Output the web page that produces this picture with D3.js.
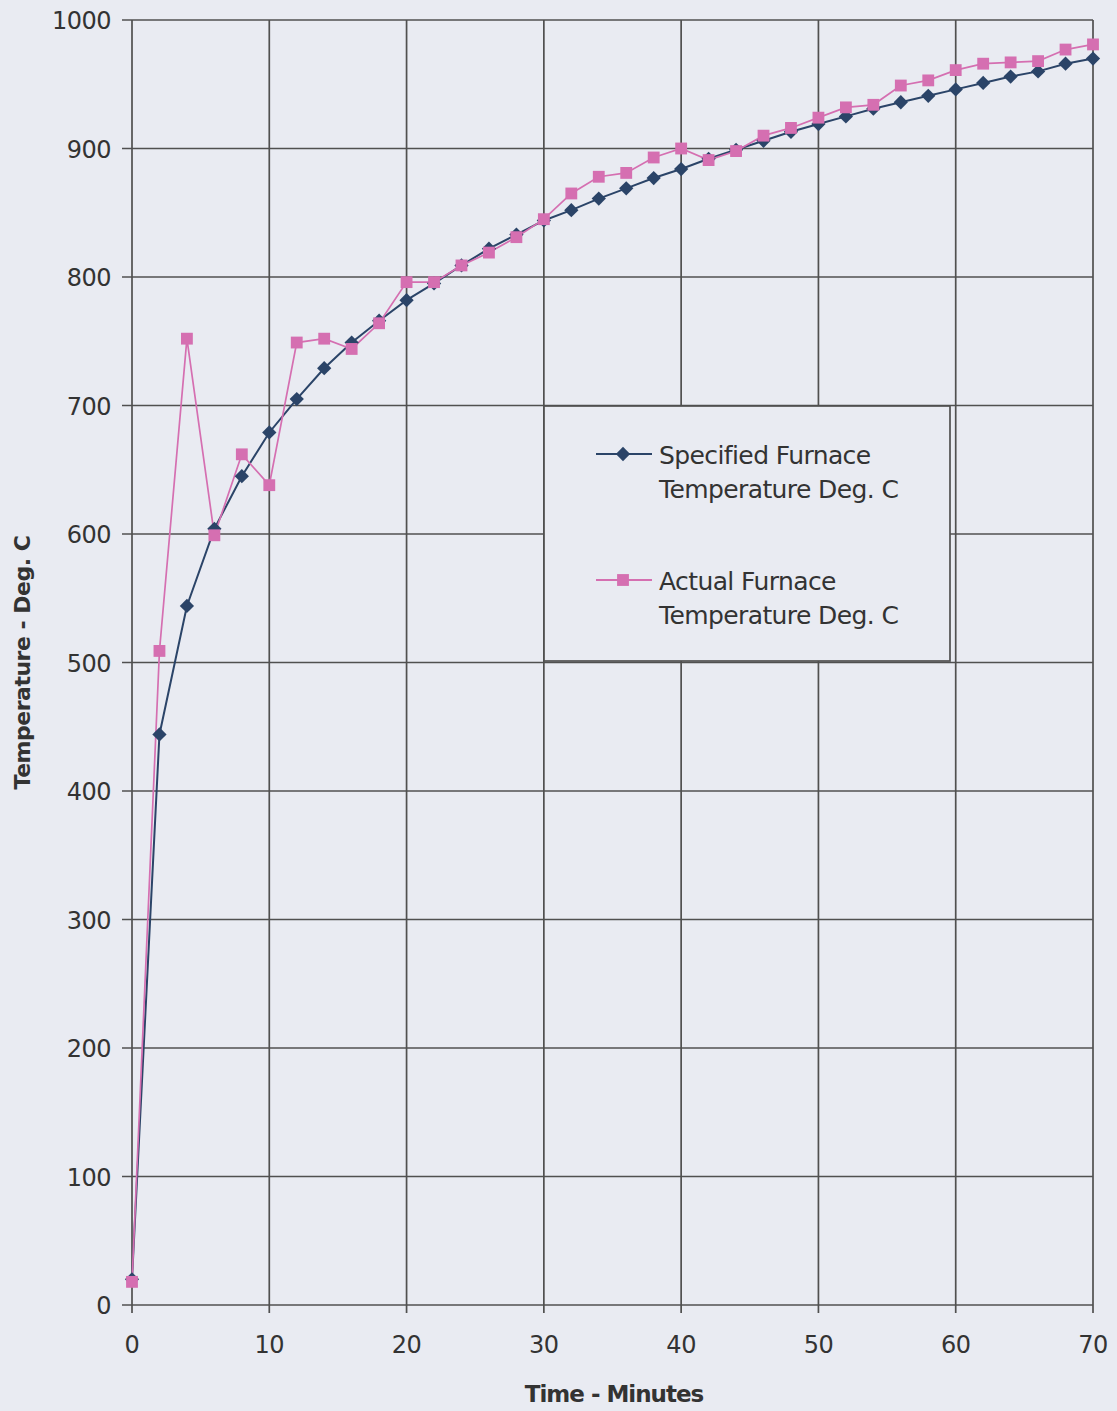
<!DOCTYPE html>
<html>
<head>
<meta charset="utf-8">
<script src="https://cdn.jsdelivr.net/npm/d3@7"></script>
<style>
	body { margin: 0; background: #e9ebf2; }
	svg { display: block; }
	text { font-family: "DejaVu Sans", Verdana, sans-serif; fill: #333; }
</style>
</head>
<body>
<svg id="chart"></svg>
<script>
const WIDTH = 1117,
	  HEIGHT = 1411;

// time in minutes
const minutes = [0, 2, 4, 6, 8, 10, 12, 14, 16, 18, 20, 22, 24, 26, 28, 30, 32, 34,
	36, 38, 40, 42, 44, 46, 48, 50, 52, 54, 56, 58, 60, 62, 64, 66, 68, 70];

// specified furnace temperature, deg C
const specified = [20, 444, 544, 604, 645, 679, 705, 729, 749, 766, 782, 795, 809, 822, 833, 844,
	852, 861, 869, 877, 884, 892, 899, 906, 913, 919, 925, 931, 936, 941, 946, 951, 956, 960, 966, 970];

// actual furnace temperature, deg C
const actual = [18, 509, 752, 599, 662, 638, 749, 752, 744, 764, 796, 796, 809, 819, 831, 845,
	865, 878, 881, 893, 900, 891, 898, 910, 916, 924, 932, 934, 949, 953, 961, 966, 967, 968, 977, 981];

const xTicks = [0, 10, 20, 30, 40, 50, 60, 70];
const yTicks = [0, 100, 200, 300, 400, 500, 600, 700, 800, 900, 1000];

const seriesNames = ["Specified Furnace|Temperature Deg. C", "Actual Furnace|Temperature Deg. C"];

const margin = {left: 131, right: 24, top: 20, bottom: 106};

let svg = d3.select("#chart")
	.attr("width", WIDTH)
	.attr("height", HEIGHT);

let x = d3.scaleLinear()
	.domain([0, 70])
	.range([margin.left + 1, WIDTH - margin.right]);

let y = d3.scaleLinear()
	.domain([0, 1000])
	.range([HEIGHT - margin.bottom, margin.top]);

const gridColor = "#505050",
	  blue = "#2b4468",
	  pink = "#d56fb1";

// grid
svg.append("g")
	.selectAll("line")
	.data(yTicks)
	.join("line")
		.attr("x1", x(0) - 10)
		.attr("x2", x(70))
		.attr("y1", d => y(d))
		.attr("y2", d => y(d))
		.attr("stroke", gridColor)
		.attr("stroke-width", 1.7);

svg.append("g")
	.selectAll("line")
	.data(xTicks)
	.join("line")
		.attr("x1", d => x(d))
		.attr("x2", d => x(d))
		.attr("y1", y(1000))
		.attr("y2", y(0) + 8)
		.attr("stroke", gridColor)
		.attr("stroke-width", 1.7);

// tick labels
svg.append("g")
	.selectAll("text")
	.data(yTicks)
	.join("text")
		.attr("x", x(0) - 21)
		.attr("y", d => y(d) + 9)
		.attr("text-anchor", "end")
		.style("font-size", "24px")
		.style("letter-spacing", "-0.5px")
		.text(d => d);

svg.append("g")
	.selectAll("text")
	.data(xTicks)
	.join("text")
		.attr("x", d => x(d))
		.attr("y", y(0) + 48)
		.attr("text-anchor", "middle")
		.style("font-size", "24px")
		.style("letter-spacing", "-0.5px")
		.text(d => d);

// axis titles
svg.append("text")
	.attr("x", 614)
	.attr("y", 1402)
	.attr("text-anchor", "middle")
	.style("font-size", "23px")
	.style("font-weight", "bold")
	.style("letter-spacing", "-1px")
	.text("Time - Minutes");

svg.append("text")
	.attr("transform", "translate(30," + y(500) + ") rotate(-90)")
	.attr("text-anchor", "middle")
	.style("font-size", "22px")
	.style("font-weight", "bold")
	.style("letter-spacing", "-0.5px")
	.text("Temperature - Deg. C");

// series lines
let line = d3.line()
	.x((d, i) => x(minutes[i]))
	.y(d => y(d));

svg.append("path")
	.datum(specified)
	.attr("d", line)
	.attr("fill", "none")
	.attr("stroke", blue)
	.attr("stroke-width", 2);

svg.append("path")
	.datum(actual)
	.attr("d", line)
	.attr("fill", "none")
	.attr("stroke", pink)
	.attr("stroke-width", 1.7);

let diamond = d3.symbol().type(d3.symbolDiamond2).size(130),
	square = d3.symbol().type(d3.symbolSquare).size(140);

svg.append("g")
	.selectAll("path")
	.data(specified)
	.join("path")
		.attr("transform", (d, i) => "translate(" + x(minutes[i]) + "," + y(d) + ")")
		.attr("d", diamond)
		.attr("fill", blue);

svg.append("g")
	.selectAll("path")
	.data(actual)
	.join("path")
		.attr("transform", (d, i) => "translate(" + x(minutes[i]) + "," + y(d) + ")")
		.attr("d", square)
		.attr("fill", pink);

// legend
let legend = svg.append("g")
	.attr("transform", "translate(544,406)");

legend.append("rect")
	.attr("width", 406)
	.attr("height", 255)
	.attr("fill", "#e9ebf2")
	.attr("stroke", gridColor)
	.attr("stroke-width", 1.7);

let colors = [blue, pink],
	symbols = [diamond, square];

seriesNames.forEach((name, i) => {
	let row = legend.append("g")
		.attr("transform", "translate(0," + (48 + i * 126) + ")");

	row.append("line")
		.attr("x1", 52)
		.attr("x2", 108)
		.attr("stroke", colors[i])
		.attr("stroke-width", 1.8);

	row.append("path")
		.attr("transform", "translate(79,0)")
		.attr("d", symbols[i])
		.attr("fill", colors[i]);

	name.split("|").forEach((part, j) => {
		row.append("text")
			.attr("x", 115)
			.attr("y", 10 + j * 34)
			.style("font-size", "25px")
			.style("letter-spacing", "-0.6px")
			.text(part);
	});
});
</script>
</body>
</html>
